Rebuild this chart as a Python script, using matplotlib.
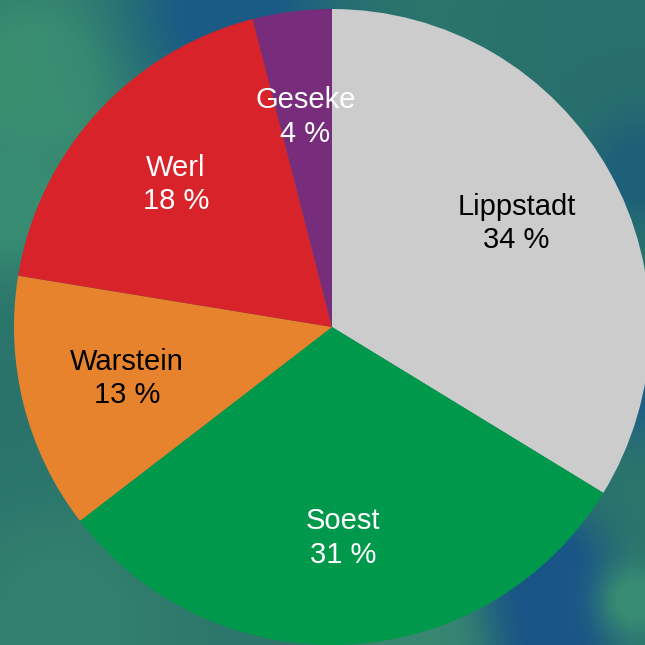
import numpy as np
import matplotlib
matplotlib.use("Agg")
import matplotlib.pyplot as plt

plt.rcParams['font.family'] = ['Liberation Sans', 'DejaVu Sans']

staedte = ["Lippstadt", "Soest", "Warstein", "Werl", "Geseke"]
anteile = [33.7, 30.8, 13.0, 18.4, 4.0]
farben = ["#cccccc", "#00994c", "#e8832d", "#d8232a", "#782c7c"]
textfarben = ["black", "white", "black", "white", "white"]

fig = plt.figure(figsize=(6.45, 6.45), dpi=100)
ax = fig.add_axes([0, 0, 1, 1])

# Achsengrenzen so, dass der Kreis wie im Original sitzt
xmin, xmax = -332 / 318, -332 / 318 + 645 / 318
ymin, ymax = -318 / 318, -318 / 318 + 645 / 318

# Hintergrund: weicher Verlauf in Petrol/Grün/Blau (Pixelkoordinaten)
px, py = np.meshgrid(np.arange(645), np.arange(645))
bild = np.ones((645, 645, 3)) * np.array([0.17, 0.46, 0.42])
flecken = [
    (40, 80, 70, (0.23, 0.56, 0.44)),
    (230, 10, 70, (0.10, 0.36, 0.52)),
    (600, 40, 80, (0.16, 0.44, 0.42)),
    (640, 170, 40, (0.12, 0.38, 0.47)),
    (10, 200, 50, (0.22, 0.55, 0.45)),
    (10, 450, 70, (0.16, 0.45, 0.42)),
    (60, 620, 80, (0.20, 0.50, 0.43)),
    (420, 645, 60, (0.22, 0.53, 0.44)),
    (640, 380, 40, (0.12, 0.38, 0.52)),
    (550, 565, 35, (0.10, 0.33, 0.53)),
    (553, 600, 38, (0.10, 0.33, 0.53)),
    (555, 645, 38, (0.10, 0.33, 0.53)),
    (635, 600, 25, (0.22, 0.55, 0.45)),
]
for fx0, fy0, s, c in flecken:
    w = np.exp(-((px - fx0) ** 2 + (py - fy0) ** 2) / (2 * s ** 2))
    w = np.clip(w * 1.3, 0, 1)[..., None]
    bild = bild * (1 - w) + np.array(c) * w
ax.imshow(bild, extent=[xmin, xmax, ymin, ymax], zorder=0, aspect='auto')

keile, _ = ax.pie(anteile, colors=farben, startangle=90, counterclock=False,
                  radius=1, wedgeprops=dict(linewidth=0))
for k in keile:
    k.set_zorder(2)

for k, name, wert, tf in zip(keile, staedte, anteile, textfarben):
    winkel = np.deg2rad((k.theta1 + k.theta2) / 2)
    r = 0.665
    ax.text(r * np.cos(winkel), r * np.sin(winkel), f"{name}\n{wert:.0f} %",
            ha="center", va="center", fontsize=21, color=tf,
            linespacing=1.25, zorder=3)

ax.set_xlim(xmin, xmax)
ax.set_ylim(ymin, ymax)
ax.set_aspect('auto')
ax.axis('off')

plt.savefig("out.png", dpi=100)
